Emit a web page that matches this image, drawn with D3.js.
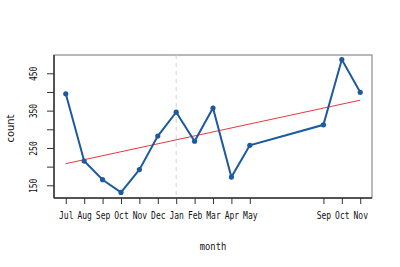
<!DOCTYPE html>
<html>
<head>
<meta charset="utf-8">
<script src="https://cdn.jsdelivr.net/npm/d3@7"></script>
<style>
  body { margin: 0; background: #fff; }
  svg { display: block; }
</style>
</head>
<body>
<div id="chart"></div>
<script>
// month position (0 = Jul of first year), labels and counts
const monthIndex = [0, 1, 2, 3, 4, 5, 6, 7, 8, 9, 10, 14, 15, 16];
const monthLabels = ['Jul', 'Aug', 'Sep', 'Oct', 'Nov', 'Dec', 'Jan', 'Feb', 'Mar', 'Apr', 'May', 'Sep', 'Oct', 'Nov'];
const counts = [395, 215, 165, 131, 192, 282, 346, 268, 357, 172, 257, 312, 487, 399];
const trendX = [0, 16];
const trendY = [208, 378];
const yTicks = [150, 200, 250, 300, 350, 400, 450];
const yLabels = ['150', '', '250', '', '350', '', '450'];
const yearBreak = 6;

(function () {
  const width = 400, height = 267;
  const plot = { left: 54, right: 372, top: 55, bottom: 198 };

  const svg = d3.select('#chart')
    .append('svg')
    .attr('width', width)
    .attr('height', height);

  const x = d3.scaleLinear().domain([-0.64, 16.64]).range([plot.left, plot.right]);
  const y = d3.scaleLinear().domain([116, 499]).range([plot.bottom, plot.top]);

  const tickFont = "'DejaVu Sans Mono', monospace";

  // plot box
  svg.append('rect')
    .attr('x', plot.left).attr('y', plot.top)
    .attr('width', plot.right - plot.left).attr('height', plot.bottom - plot.top)
    .attr('fill', 'none')
    .attr('stroke', '#8a8a8a')
    .attr('stroke-width', 1.2);

  // year boundary
  svg.append('line')
    .attr('x1', x(yearBreak)).attr('x2', x(yearBreak))
    .attr('y1', plot.top).attr('y2', plot.bottom)
    .attr('stroke', '#d0d0d0')
    .attr('stroke-dasharray', '4,4');

  // x axis
  const xAxis = svg.append('g')
    .attr('transform', `translate(0,${plot.bottom})`)
    .call(d3.axisBottom(x).tickValues(monthIndex)
      .tickFormat((d, i) => monthLabels[i]).tickSizeOuter(0).tickSize(6).tickPadding(8));
  xAxis.select('.domain').attr('d', `M${plot.left},0H${plot.right}`).attr('stroke', '#333').attr('stroke-width', 1.5);
  xAxis.selectAll('.tick line').attr('stroke', '#333');
  xAxis.selectAll('text')
    .attr('transform', 'scale(0.8,1)')
    .style('font-family', tickFont)
    .style('font-size', '10px')
    .attr('fill', '#111');

  // y axis
  const yAxis = svg.append('g')
    .attr('transform', `translate(${plot.left},0)`)
    .call(d3.axisLeft(y).tickValues(yTicks)
      .tickFormat((d, i) => yLabels[i]).tickSizeOuter(0).tickSize(7));
  yAxis.select('.domain').attr('d', `M0,${plot.top}V${plot.bottom}`).attr('stroke', '#333').attr('stroke-width', 1.5);
  yAxis.selectAll('.tick line').attr('stroke', '#333');
  yAxis.selectAll('text')
    .attr('x', 0).attr('y', 0).attr('dy', '0.32em')
    .attr('transform', 'translate(-20,0) rotate(-90) scale(0.8,1)')
    .attr('text-anchor', 'middle')
    .style('font-family', tickFont)
    .style('font-size', '10px')
    .attr('fill', '#111');

  // trend line
  svg.append('line')
    .attr('x1', x(trendX[0])).attr('y1', y(trendY[0]))
    .attr('x2', x(trendX[1])).attr('y2', y(trendY[1]))
    .attr('stroke', '#e8383d')
    .attr('stroke-width', 1);

  // series
  const pts = monthIndex.map((m, i) => [m, counts[i]]);
  svg.append('path')
    .datum(pts)
    .attr('d', d3.line().x(d => x(d[0])).y(d => y(d[1])))
    .attr('fill', 'none')
    .attr('stroke', '#1d5a9e')
    .attr('stroke-width', 2);

  svg.selectAll('circle.pt')
    .data(pts)
    .enter()
    .append('circle')
    .attr('class', 'pt')
    .attr('cx', d => x(d[0]))
    .attr('cy', d => y(d[1]))
    .attr('r', 2.6)
    .attr('fill', '#1d5a9e');

  // axis titles
  svg.append('text')
    .attr('transform', `translate(14,${(plot.top + plot.bottom) / 2 + 2}) rotate(-90) scale(0.9,1)`)
    .attr('text-anchor', 'middle')
    .style('font-family', "'DejaVu Sans', sans-serif")
    .style('font-size', '11px')
    .attr('fill', '#111')
    .text('count');

  svg.append('text')
    .attr('transform', `translate(${(plot.left + plot.right) / 2},250) scale(0.8,1)`)
    .attr('text-anchor', 'middle')
    .style('font-family', tickFont)
    .style('font-size', '11px')
    .attr('fill', '#111')
    .text('month');
})();
</script>
</body>
</html>
